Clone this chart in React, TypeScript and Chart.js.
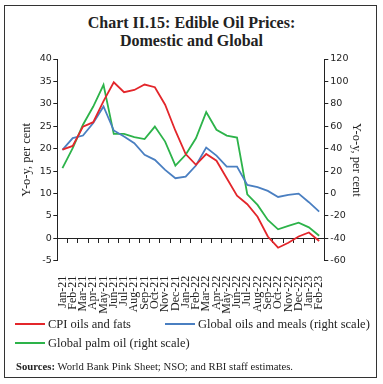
import React, { useEffect, useRef } from "react";
import { Chart, registerables } from "chart.js";

Chart.register(...registerables);

const months = [
  "Jan-21", "Feb-21", "Mar-21", "Apr-21", "May-21", "Jun-21", "Jul-21", "Aug-21", "Sep-21", "Oct-21", "Nov-21", "Dec-21",
  "Jan-22", "Feb-22", "Mar-22", "Apr-22", "May-22", "Jun-22", "Jul-22", "Aug-22", "Sep-22", "Oct-22", "Nov-22", "Dec-22",
  "Jan-23", "Feb-23",
];

const cpiOilsFats = [
  19.8, 20.6, 24.9, 25.9, 30.6, 34.8, 32.6, 33.1, 34.3, 33.7, 29.8, 24.0,
  18.8, 16.4, 18.8, 17.3, 13.4, 9.5, 7.6, 4.8, 0.4, -2.1, -1.0, 0.4,
  1.3, -0.6,
];

const globalOilsMeals = [
  38.9, 49.4, 51.7, 62.8, 77.6, 56.2, 50.8, 44.9, 34.5, 30.0, 21.0, 13.6,
  15.0, 24.9, 41.0, 33.8, 24.0, 24.0, 7.6, 5.6, 2.3, -3.1, -1.3, -0.1,
  -7.8, -16.2,
];

const globalPalmOil = [
  22.6, 40.4, 61.3, 77.6, 97.0, 53.2, 53.2, 50.3, 48.5, 59.7, 46.3, 24.9,
  34.5, 49.3, 72.6, 56.8, 51.7, 49.9, -0.7, -10.2, -23.6, -32.0, -29.0, -26.0,
  -30.2, -37.7,
];

const leftTicks = { min: -5, max: 40, step: 5 };
const rightTicks = { min: -60, max: 120, step: 20 };

const RED = "#e3262b";
const BLUE = "#4a7fc1";
const GREEN = "#2db34a";
const INK = "#222222";

export default function App() {
  const canvasRef = useRef<HTMLCanvasElement | null>(null);

  useEffect(() => {
    const canvas = canvasRef.current;
    if (!canvas) return;
    const chart = new Chart(canvas, {
      type: "line",
      data: {
        labels: months,
        datasets: [
          {
            label: "CPI oils and fats",
            data: cpiOilsFats,
            borderColor: RED,
            backgroundColor: RED,
            borderWidth: 1.8,
            pointRadius: 0,
            yAxisID: "y",
            xAxisID: "x",
          },
          {
            label: "Global oils and meals (right scale)",
            data: globalOilsMeals,
            borderColor: BLUE,
            backgroundColor: BLUE,
            borderWidth: 1.8,
            pointRadius: 0,
            yAxisID: "y2",
            xAxisID: "x",
          },
          {
            label: "Global palm oil (right scale)",
            data: globalPalmOil,
            borderColor: GREEN,
            backgroundColor: GREEN,
            borderWidth: 1.8,
            pointRadius: 0,
            yAxisID: "y2",
            xAxisID: "x",
          },
        ],
      },
      options: {
        animation: false,
        responsive: false,
        maintainAspectRatio: false,
        layout: { padding: { top: 9, bottom: 0, left: 0, right: 0 } },
        plugins: {
          legend: { display: false },
          tooltip: { enabled: false },
          title: { display: false },
        },
        scales: {
          x: {
            type: "category",
            position: "bottom",
            offset: true,
            grid: { display: false },
            border: { display: false },
            ticks: {
              autoSkip: false,
              maxRotation: 90,
              minRotation: 90,
              padding: 7,
              color: INK,
              font: { family: "'Liberation Serif', serif", size: 12 },
            },
            afterFit: (s: any) => {
              s.height = 59.3;
            },
          },
          x0: {
            type: "category",
            position: { y: 0 } as any,
            offset: true,
            grid: { offset: true, drawOnChartArea: false, tickLength: 4, color: INK, lineWidth: 1 },
            border: { display: true, color: INK, width: 1 },
            ticks: { display: false },
          },
          y: {
            type: "linear",
            position: "left",
            min: leftTicks.min,
            max: leftTicks.max,
            ticks: {
              stepSize: leftTicks.step,
              padding: 1.5,
              color: INK,
              font: { family: "'DejaVu Sans', sans-serif", size: 9.5 },
            },
            grid: { drawOnChartArea: false, tickLength: 4, color: INK },
            border: { color: INK, width: 1 },
            title: {
              display: true,
              text: "Y-o-y, per cent",
              color: INK,
              font: { family: "'Liberation Serif', serif", size: 12.5 },
              padding: { top: 19.5, bottom: 0 },
            },
            afterFit: (s: any) => {
              s.width = 57.3;
            },
          },
          y2: {
            type: "linear",
            position: "right",
            min: rightTicks.min,
            max: rightTicks.max,
            ticks: {
              stepSize: rightTicks.step,
              padding: 2,
              color: INK,
              font: { family: "'DejaVu Sans', sans-serif", size: 9.5 },
            },
            grid: { drawOnChartArea: false, tickLength: 4, color: INK },
            border: { color: INK, width: 1 },
            title: {
              display: true,
              text: "Y-o-y, per cent",
              color: INK,
              font: { family: "'Liberation Serif', serif", size: 12.5 },
              padding: { top: 18.8, bottom: 0 },
            },
            afterFit: (s: any) => {
              s.width = 58.7;
            },
          },
        },
      },
    });
    return () => chart.destroy();
  }, []);

  const serif = "'Liberation Serif', serif";
  const legendItem = (color: string, text: string, left: number, top: number) => (
    <div style={{ position: "absolute", left, top, height: 16, display: "flex", alignItems: "center" }}>
      <div style={{ width: 30, height: 2.5, background: color, marginRight: 3 }} />
      <span style={{ fontFamily: serif, fontSize: 12.5, color: INK, whiteSpace: "nowrap" }}>{text}</span>
    </div>
  );

  return (
    <div style={{ position: "absolute", left: 0, top: 0, width: 383, height: 384, background: "#fff", overflow: "hidden" }}>
      <div
        style={{
          position: "absolute",
          left: 4,
          top: 5,
          width: 371,
          height: 371,
          border: "1.5px solid #333",
        }}
      />
      <div
        style={{
          position: "absolute",
          left: 0,
          top: 14,
          width: 383,
          textAlign: "center",
          fontFamily: serif,
          fontWeight: "bold",
          fontSize: 16,
          lineHeight: "18px",
          color: INK,
        }}
      >
        Chart II.15: Edible Oil Prices:
        <br />
        Domestic and Global
      </div>
      <canvas ref={canvasRef} width={383} height={270} style={{ position: "absolute", left: 0, top: 50, width: 383, height: 270 }} />
      {legendItem(RED, "CPI oils and fats", 15, 316)}
      {legendItem(BLUE, "Global oils and meals (right scale)", 165, 316)}
      {legendItem(GREEN, "Global palm oil (right scale)", 15, 335)}
      <div
        style={{
          position: "absolute",
          left: 16,
          top: 360,
          fontFamily: serif,
          fontSize: 10.7,
          color: INK,
          whiteSpace: "nowrap",
          lineHeight: "13px",
        }}
      >
        <b>Sources:</b> World Bank Pink Sheet; NSO; and RBI staff estimates.
      </div>
    </div>
  );
}
